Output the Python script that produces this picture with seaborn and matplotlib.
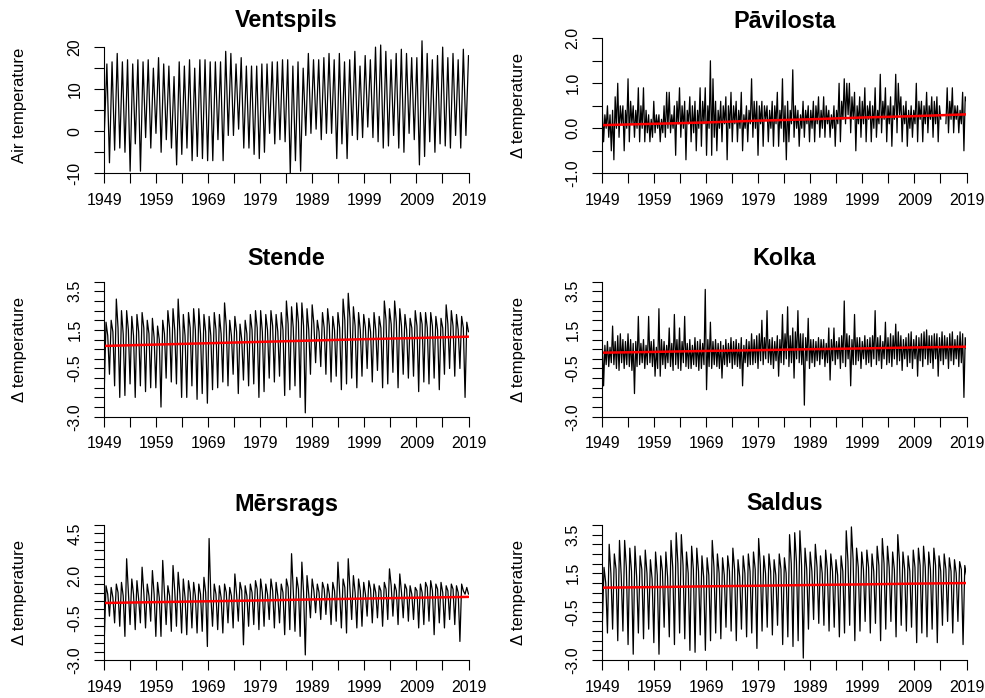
import numpy as np
import matplotlib
matplotlib.use("Agg")
import matplotlib.pyplot as plt
import seaborn as sns

nan = np.nan

# ---------------- data ----------------
# Ventspils air temperature: winter low / summer high for each year 1949-2019
ventspils_low = [
    -0.5, -7.5, -4.5, -4.0, -5.0, -9.5, -3.0, -9.5, -1.5, -4.0,
    -0.5, -5.0, -2.0, -4.0, -8.0, -5.5, -4.0, -7.0, -6.0, -6.5,
    -7.0, -7.0, -2.0, -7.0, -1.0, -1.0, 0.5, -4.0, -4.0, -5.5,
    -6.5, -5.0, -0.5, -3.0, -2.0, -2.5, -10.0, -7.0, -9.5, -1.0,
    -0.5, 0.5, -2.0, -0.5, -0.5, -6.5, -3.0, -6.5, -1.0, -2.0,
    -1.5, 1.0, -1.5, -2.5, -4.0, -3.5, -1.0, -4.0, -5.0, -0.5,
    -2.0, -8.0, -6.0, -2.5, -5.0, -3.0, -3.5, -4.0, -1.0, -4.0,
    -1.0]
ventspils_high = [
    16.0, 16.5, 18.5, 16.5, 17.0, 16.0, 17.0, 16.5, 17.0, 15.0,
    17.5, 16.0, 15.5, 13.0, 16.5, 15.5, 17.0, 15.0, 17.0, 17.0,
    16.5, 16.5, 16.5, 19.0, 18.5, 16.0, 17.5, 15.5, 15.5, 15.5,
    16.0, 16.0, 16.5, 16.5, 17.0, 17.0, 15.5, 16.5, 15.0, 18.5,
    17.0, 17.0, 17.5, 18.5, 17.0, 18.5, 16.5, 17.0, 19.0, 15.5,
    18.0, 17.0, 20.0, 20.5, 19.0, 17.0, 18.5, 19.5, 18.5, 17.5,
    17.5, 21.5, 18.5, 17.0, 18.0, 20.0, 17.5, 18.5, 17.0, 19.5,
    18.0]

# Pavilosta delta temperature, four readings per year
pavilosta = [
    0.4, -0.3, 0.3, 0.0,  0.5, -0.2, 0.3, -0.5,  0.4, -0.7, 0.7, 0.0,  1.0, -0.2, 0.5, 0.1,  0.5, -0.5, 0.4, 0.0,
    1.1, -0.3, 0.6, 0.1,  0.5, -0.2, 0.4, 0.0,  0.9, -0.3, 0.5, 0.0,  0.9, -0.3, 0.4, -0.1,  0.3, -0.3, 0.2, -0.2,
    0.6, -0.1, 0.3, 0.0,  0.3, -0.3, 0.2, -0.1,  0.5, -0.2, 0.8, 0.0,  0.8, -0.1, 0.3, 0.0,  0.5, -0.6, 0.6, 0.1,
    0.9, -0.2, 0.5, 0.0,  0.6, -0.7, 0.4, 0.1,  0.7, -0.3, 0.5, -0.1,  0.6, -0.5, 0.4, 0.0,  0.9, -0.4, 0.6, 0.1,
    0.9, -0.6, 0.5, 0.0,  1.5, -0.6, 1.1, -0.2,  0.6, -0.5, 0.4, 0.0,  0.6, -0.3, 0.5, 0.1,  0.7, -0.7, 0.5, 0.0,
    0.8, -0.3, 0.5, 0.1,  0.6, -0.3, 0.4, 0.0,  0.8, -0.5, 0.3, 0.0,  0.5, -0.3, 0.4, 0.1,  1.1, -0.2, 0.6, 0.0,
    0.6, -0.6, 0.5, 0.1,  0.6, -0.4, 0.5, 0.2,  0.5, -0.3, 0.4, 0.0,  0.6, -0.4, 0.5, 0.1,  0.8, -0.4, 0.4, 0.0,
    1.1, -0.3, 0.5, -0.7,  0.6, -0.3, 0.4, 0.1,  1.3, -0.2, 0.5, 0.0,  0.4, -0.4, 0.3, 0.0,  0.6, -0.2, 0.4, 0.1,
    0.5, -0.3, 0.4, 0.0,  0.6, -0.3, 0.5, 0.1,  0.7, -0.2, 0.4, 0.0,  0.7, -0.2, 0.5, 0.1,  0.4, -0.2, 0.3, 0.0,
    0.5, -0.4, 0.4, 0.1,  1.0, -0.3, 0.6, 0.2,  1.1, 0.1, 1.0, 0.3,  1.0, -0.1, 0.7, 0.2,  0.8, -0.5, 0.5, 0.1,
    0.7, -0.2, 0.6, 0.1,  0.9, -0.3, 0.5, 0.2,  0.6, -0.3, 0.5, 0.0,  0.9, -0.2, 0.4, 0.1,  1.2, -0.1, 0.6, 0.2,
    0.9, -0.3, 0.5, 0.1,  0.7, -0.4, 0.5, 0.2,  1.2, -0.1, 1.0, 0.3,  0.7, -0.3, 0.5, 0.1,  0.6, -0.4, 0.4, 0.0,
    0.5, -0.2, 0.4, 0.1,  1.0, -0.3, 0.6, 0.2,  0.6, -0.3, 0.5, 0.1,  0.8, -0.1, 0.5, 0.2,  0.7, -0.2, 0.6, 0.1,
    0.7, -0.3, 0.5, 0.2,  nan, nan, nan, 0.1,  0.9, -0.1, 0.6, 0.2,  0.9, -0.1, 0.5, 0.2,  0.5, -0.1, 0.4, 0.1,
    0.8, -0.5, 0.7, 0.6]

# Kolka delta temperature, four readings per year
kolka = [
    0.8, -1.4, 0.7, -0.3,  0.9, -0.4, 0.6, -0.2,  1.7, -0.3, 0.9, -0.5,  1.2, -0.6, 1.3, -0.2,  1.0, -0.5, 0.9, -0.3,
    1.3, -0.4, 1.0, -0.6,  0.8, -1.8, 0.9, -0.4,  2.2, -0.3, 0.8, -0.2,  1.0, -0.5, 0.7, -0.3,  2.2, -0.2, 0.9, -0.4,
    1.0, -0.9, 0.6, -0.5,  2.6, -0.9, 1.0, -0.3,  0.9, -0.5, 0.7, -0.2,  1.6, -0.4, 0.8, -0.6,  2.3, -0.3, 1.0, -0.5,
    1.6, -0.6, 0.9, -0.2,  2.2, -0.4, 0.8, -0.5,  1.0, -0.5, 0.7, -0.3,  1.1, -0.4, 0.9, -0.6,  1.0, -0.5, 0.8, -0.3,
    3.6, -1.6, 1.0, -0.4,  1.9, -0.5, 0.9, -0.3,  1.0, -0.4, 0.8, -0.5,  0.9, -1.0, 0.7, -0.3,  1.0, -0.4, 0.8, -0.2,
    1.1, -0.5, 0.9, -0.3,  1.0, -0.4, 0.8, -0.5,  1.1, -1.4, 0.7, -0.2,  1.0, -0.4, 0.9, -0.3,  1.3, -0.3, 1.0, -0.2,
    1.2, -0.5, 1.3, -0.1,  2.0, -0.3, 1.1, 0.0,  2.5, -0.2, 1.0, -0.3,  1.1, -0.5, 0.9, -0.1,  1.2, -0.9, 1.0, -0.2,
    2.3, -0.3, 1.3, 0.0,  2.7, -0.4, 1.2, -0.2,  1.6, -1.0, 1.4, 0.0,  2.5, -0.2, 1.3, -0.3,  1.3, -2.4, 1.1, -0.1,
    2.1, -0.5, 1.0, -0.2,  1.0, -0.4, 0.9, -0.1,  1.1, -0.3, 1.0, 0.0,  1.0, -0.4, 0.8, -0.2,  1.6, -1.1, 1.0, -0.1,
    1.6, -0.3, 0.9, 0.0,  1.1, -0.5, 1.2, -0.2,  3.0, -0.4, 1.3, 0.0,  1.2, -1.4, 1.0, -0.3,  2.3, -0.3, 1.1, -0.1,
    1.1, -0.5, 0.9, 0.0,  1.2, -0.3, 1.0, -0.2,  1.1, -0.4, 1.2, 0.0,  2.5, -0.3, 1.1, -0.1,  1.2, -0.5, 0.9, 0.0,
    1.9, -0.3, 1.1, -0.2,  1.3, -0.4, 1.2, 0.0,  1.8, -0.3, 1.4, -0.1,  1.2, -0.6, 1.0, 0.0,  1.1, -0.4, 1.3, -0.2,
    1.4, -0.5, 1.0, 0.0,  1.2, -0.9, 1.1, -0.1,  1.3, -0.4, 1.4, 0.0,  1.5, -0.3, 1.2, -0.2,  1.2, -0.5, 1.3, 0.0,
    1.3, -0.9, 1.1, -0.1,  1.4, -0.3, 1.2, 0.0,  1.1, -0.5, 1.3, -0.1,  1.4, -0.3, 1.0, 0.0,  1.2, -0.4, 1.4, -0.2,
    1.3, -2.0, 1.1, 0.5]

# Stende: winter low, summer high and autumn level for each year
stende_low = [
    -1.5, -0.8, -1.4, -2.0, -1.9, -1.3, -2.0, -1.4, -1.7, -1.5,
    -1.5, -2.5, -1.0, -1.2, -1.3, -2.0, -2.0, -1.4, -2.1, -1.8,
    -2.3, -1.6, -1.5, -1.2, -1.4, -0.8, -1.8, -1.1, -1.4, -1.3,
    -2.0, -1.7, -1.0, -1.2, -0.9, -1.9, -1.6, -1.4, -2.0, -2.8,
    -0.8, -0.2, -0.4, -0.8, -1.2, -0.9, -1.6, -1.3, -1.0, -1.5,
    -0.9, -0.5, -1.2, -0.6, -1.5, -1.3, -0.7, -1.5, -0.8, -1.0,
    -0.9, -1.7, -1.2, -1.3, -1.0, -1.6, -0.8, -0.5, -0.9, -0.5,
    -2.0]
stende_high = [
    1.9, 2.0, 3.1, 2.5, 2.5, 2.2, 2.3, 2.4, 2.0, 2.1,
    1.7, 2.0, 2.5, 2.6, 3.1, 2.3, 2.4, 2.6, 2.6, 2.3,
    2.2, 2.4, 2.3, 2.9, 2.0, 2.2, 1.8, 2.0, 2.3, 2.5,
    2.5, 2.3, 2.5, 2.3, 2.4, 3.0, 2.7, 2.9, 2.9, 2.6,
    2.8, 2.0, 2.4, 2.6, 2.2, 2.4, 3.1, 3.4, 2.7, 2.4,
    2.3, 2.1, 2.4, 2.2, 3.0, 2.6, 3.0, 2.6, 2.3, 2.1,
    2.5, 2.4, 2.4, 2.4, 2.2, 2.1, 2.8, 2.5, 2.3, 2.2,
    1.9]
stende_mid = [
    1.2, 1.4, 1.6, 1.3, 1.5, 1.2, 1.4, 1.6, 1.3, 1.1,
    1.0, 1.3, 1.6, 1.5, 1.4, 1.2, 1.6, 1.5, 1.3, 1.4,
    1.2, 1.5, 1.3, 1.7, 1.2, 1.4, 1.0, 1.3, 1.5, 1.6,
    1.4, 1.5, 1.7, 1.4, 1.5, 1.8, 1.6, 1.9, 1.7, 1.5,
    1.8, 1.4, 1.6, 1.7, 1.5, 1.6, 2.0, 2.1, 1.7, 1.5,
    1.6, 1.4, 1.5, 1.6, 2.0, 1.8, 1.9, 1.7, 1.5, 1.6,
    1.7, 1.8, 1.6, 1.7, 1.5, 1.6, 1.8, 1.7, 1.5, 1.6,
    1.4]

# Mersrags
mersrags_low = [
    -1.7, -0.4, -0.8, -1.0, -1.6, -0.9, -1.2, -0.8, -1.1, -0.7,
    -1.6, -1.6, -0.9, -1.3, -1.0, -1.4, -1.5, -1.1, -1.4, -1.3,
    -2.2, -1.0, -1.2, -1.4, -0.8, -1.1, -0.7, -2.1, -1.0, -0.9,
    -1.2, -1.0, -0.6, -1.1, -0.8, -1.5, -1.2, -1.3, -1.6, -2.7,
    -0.5, -0.2, -0.6, -0.3, -0.9, -0.7, -1.1, -1.4, -0.6, -1.1,
    -1.0, -0.4, -0.8, -0.5, -1.0, -0.6, -0.4, -0.9, -0.5, -0.7,
    -0.6, -1.1, -0.9, -0.7, -1.5, -0.8, -1.1, -0.6, -0.9, -1.9,
    0.9]
mersrags_high = [
    1.4, 1.3, 1.5, 1.6, 3.0, 1.8, 1.7, 2.5, 1.5, 2.3,
    1.6, 2.9, 1.4, 2.6, 2.2, 1.8, 1.7, 1.6, 1.5, 1.9,
    4.2, 1.5, 1.4, 1.5, 1.3, 2.1, 1.6, 1.4, 1.5, 1.7,
    1.8, 1.5, 1.8, 1.6, 1.5, 1.8, 3.3, 1.9, 2.8, 2.0,
    1.8, 1.5, 1.6, 1.5, 1.6, 2.8, 1.8, 3.0, 2.0, 1.8,
    1.6, 1.7, 1.5, 1.4, 1.6, 2.4, 1.5, 2.1, 1.5, 1.4,
    1.3, 1.5, 1.6, 1.7, 1.5, 1.6, 1.4, 1.5, 1.4, 1.5,
    1.3]
mersrags_mid = [
    0.9, 0.7, 1.0, 0.8, 1.1, 0.9, 0.6, 1.0, 0.8, 0.9,
    0.7, 1.0, 0.8, 1.1, 0.9, 0.7, 1.0, 0.8, 0.9, 1.0,
    0.8, 0.9, 0.7, 1.0, 0.8, 0.9, 1.1, 0.8, 1.0, 1.2,
    1.0, 0.9, 1.1, 0.8, 1.0, 1.3, 1.1, 1.2, 1.0, 0.9,
    1.1, 1.0, 1.2, 0.9, 1.1, 1.0, 1.3, 1.2, 1.0, 1.1,
    0.9, 1.2, 1.0, 1.1, 1.2, 1.4, 1.1, 1.0, 1.2, 0.9,
    1.1, 1.0, 1.3, 1.1, 1.2, 1.0, 1.1, 1.2, 1.0, 1.1,
    0.9]

# Saldus
saldus_low = [
    -1.2, -1.6, -1.4, -2.0, -1.5, -2.2, -2.7, -1.6, -1.9, -1.4,
    -2.1, -2.7, -1.3, -1.8, -2.2, -1.6, -1.9, -2.5, -2.6, -1.7,
    -2.5, -2.0, -1.6, -1.9, -1.3, -1.5, -2.0, -1.4, -1.8, -1.6,
    -2.4, -1.5, -1.3, -1.7, -1.2, -2.2, -1.8, -2.3, -2.0, -2.9,
    -1.4, -0.9, -1.1, -1.2, -1.5, -1.3, -1.8, -1.6, -1.2, -2.0,
    -1.5, -1.0, -1.6, -1.1, -2.0, -1.4, -1.0, -1.8, -1.2, -1.5,
    -1.3, -2.1, -1.6, -1.8, -1.4, -2.1, -1.2, -1.0, -1.6, -1.0,
    -2.2]
saldus_high = [
    1.8, 3.0, 2.5, 3.2, 3.2, 2.8, 2.9, 2.4, 2.7, 2.2,
    2.6, 2.4, 2.6, 3.2, 3.6, 3.5, 2.6, 2.9, 2.8, 2.4,
    2.3, 3.2, 2.5, 2.3, 2.4, 2.8, 2.2, 2.4, 2.5, 2.6,
    3.3, 2.4, 2.5, 2.2, 2.5, 2.3, 3.5, 3.6, 3.7, 2.8,
    2.6, 3.0, 2.4, 2.7, 2.5, 2.2, 2.4, 3.7, 3.9, 2.8,
    2.6, 2.7, 2.5, 2.9, 3.3, 2.9, 2.6, 3.5, 2.6, 2.4,
    2.7, 2.8, 2.9, 2.6, 2.8, 2.4, 2.5, 2.3, 2.2, 2.1,
    1.9]
saldus_mid = [
    1.0, 1.5, 1.7, 1.4, 1.8, 1.6, 1.3, 1.7, 1.5, 1.2,
    1.4, 1.6, 1.3, 1.8, 2.0, 1.9, 1.5, 1.7, 1.6, 1.3,
    1.4, 1.8, 1.5, 1.4, 1.6, 1.7, 1.3, 1.5, 1.6, 1.7,
    1.9, 1.5, 1.6, 1.4, 1.7, 1.5, 2.0, 2.1, 1.9, 1.7,
    1.6, 1.8, 1.5, 1.7, 1.6, 1.4, 1.6, 2.1, 2.2, 1.8,
    1.7, 1.8, 1.6, 1.9, 2.0, 1.8, 1.7, 2.1, 1.7, 1.6,
    1.8, 1.9, 1.8, 1.7, 1.9, 1.6, 1.7, 1.6, 1.5, 1.7,
    1.4]

# red trend lines
trend_years = [1949, 1959, 1969, 1979, 1989, 1999, 2009, 2019]
pavilosta_trend = [0.07, 0.10, 0.13, 0.17, 0.20, 0.24, 0.27, 0.31]
stende_trend = [0.67, 0.74, 0.81, 0.88, 0.95, 1.02, 1.08, 1.15]
kolka_trend = [0.32, 0.36, 0.41, 0.45, 0.50, 0.54, 0.59, 0.63]
mersrags_trend = [0.38, 0.43, 0.48, 0.53, 0.59, 0.64, 0.69, 0.74]
saldus_trend = [0.75, 0.78, 0.82, 0.85, 0.89, 0.92, 0.96, 0.99]


def interleave(*cols):
    return np.column_stack(cols).ravel()


# ---------------- plotting ----------------
sns.set_style("ticks")
plt.rcParams['font.family'] = ['Liberation Sans', 'DejaVu Sans']
plt.rcParams['text.color'] = 'black'
plt.rcParams['axes.labelcolor'] = 'black'

W, H = 985, 698
fig = plt.figure(figsize=(W / 100, H / 100), dpi=100)

# (title, series, trend, ylim, tick range, labelled ticks, ylabel, left px, bottom px, title px above)
panels = [
    ("Ventspils", interleave(ventspils_low, ventspils_high), None, (-10, 22.1),
     (-10, 20, 5), [-10, 0, 10, 20], "Air temperature", 104.3, 173.3, 18),
    ("Pāvilosta", pavilosta, pavilosta_trend, (-1.0, 2.0),
     (-1.0, 2.0, 0.5), [-1.0, 0.0, 1.0, 2.0], "Δ temperature", 602.3, 173.3, 17),
    ("Stende", interleave(stende_low, stende_high, stende_mid), stende_trend, (-3.0, 4.0),
     (-3.0, 4.0, 0.5), [-3.0, -0.5, 1.5, 3.5], "Δ temperature", 104.3, 416.7, 23),
    ("Kolka", kolka, kolka_trend, (-3.0, 4.0),
     (-3.0, 4.0, 0.5), [-3.0, -0.5, 1.5, 3.5], "Δ temperature", 602.3, 416.7, 23),
    ("Mērsrags", interleave(mersrags_low, mersrags_high, mersrags_mid), mersrags_trend, (-3.0, 5.0),
     (-3.0, 5.0, 0.5), [-3.0, -0.5, 2.0, 4.5], "Δ temperature", 104.3, 660.0, 21),
    ("Saldus", interleave(saldus_low, saldus_high, saldus_mid), saldus_trend, (-3.0, 4.0),
     (-3.0, 4.0, 0.5), [-3.0, -0.5, 1.5, 3.5], "Δ temperature", 602.3, 660.0, 21),
]

AW, AH = 364.2, 135.0
xticks = np.arange(1949, 2020, 5)
xlabels = [str(y) if (y - 1949) % 10 == 0 else "" for y in xticks]

for title, vals, trend, ylim, trange, shown, ylabel, left, bottom, tpx in panels:
    ax = fig.add_axes([left / W, (H - bottom) / H, AW / W, AH / H])
    y = np.asarray(vals, dtype=float)
    x = np.linspace(1949, 2019, len(y))
    seg = np.cumsum(np.isnan(y))
    ok = ~np.isnan(y)
    sns.lineplot(x=x[ok], y=y[ok], units=seg[ok], estimator=None, sort=False,
                 color="black", linewidth=0.9, ax=ax)
    if trend is not None:
        sns.lineplot(x=trend_years, y=trend, color="#FF0000", linewidth=1.8, ax=ax)

    ax.set_xlim(1949, 2019)
    ax.set_ylim(*ylim)
    lo, hi, step = trange
    yt = np.arange(lo, hi + step / 2, step)
    fmt = "{:.0f}" if step >= 1 else "{:.1f}"
    ylab = [fmt.format(v) if any(abs(v - s) < 1e-6 for s in shown) else "" for v in yt]
    ax.set_yticks(yt, labels=ylab)
    ax.set_xticks(xticks, labels=xlabels)

    for s in ["top", "right"]:
        ax.spines[s].set_visible(False)
    ax.spines["left"].set_bounds(lo, hi)
    ax.spines["bottom"].set_bounds(1949, 2019)
    for s in ["left", "bottom"]:
        ax.spines[s].set_color("black")
        ax.spines[s].set_linewidth(0.8)

    ax.tick_params(axis="both", direction="out", length=7.2, width=0.8, color="black",
                   labelsize=11.5, labelcolor="black")
    ax.tick_params(axis="x", pad=7)
    ax.tick_params(axis="y", pad=8.5, labelrotation=90)
    for lab in ax.get_yticklabels():
        lab.set_va("center")

    ax.set_xlabel("")
    ax.set_ylabel(ylabel, fontsize=12, va="center", color="black")
    ax.yaxis.set_label_coords(-84.3 / AW, 0.5)
    ax.text(0.5, 1 + tpx / AH, title, transform=ax.transAxes, ha="center", va="center",
            fontsize=16.8, fontweight="bold", color="black")
    if ax.get_legend() is not None:
        ax.get_legend().remove()

fig.savefig("out.png", dpi=100)
